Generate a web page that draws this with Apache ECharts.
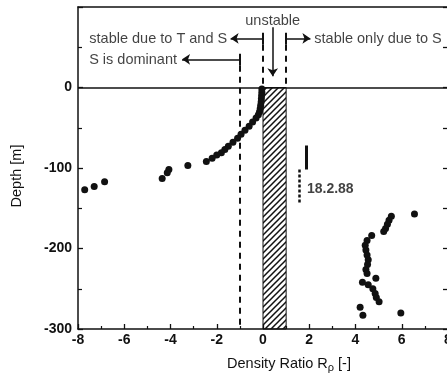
<!DOCTYPE html>
<html>
<head>
<meta charset="utf-8">
<script src="https://cdn.jsdelivr.net/npm/echarts@6/dist/echarts.min.js"></script>
<style>
  html, body { margin: 0; padding: 0; background: #fff; }
  #chart { width: 447px; height: 379px; }
</style>
</head>
<body>
<div id="chart"></div>
<script>
// axis ranges
const ratioRange = [-8, 8];
const depthRange = [-300, 100];
const depthLabels = [0, -100, -200, -300];

// density ratio / depth points, upper branch (surface to ~130 m)
const upperPoints = [
  [-0.05, -2], [-0.05, -6], [-0.06, -10], [-0.07, -14], [-0.08, -18], [-0.1, -22],
  [-0.12, -26], [-0.15, -30], [-0.2, -34], [-0.3, -38], [-0.45, -43], [-0.6, -48],
  [-0.78, -53], [-0.95, -58], [-1.1, -63], [-1.3, -68], [-1.5, -73], [-1.65, -77],
  [-1.8, -81], [-2.0, -84], [-2.2, -88], [-2.45, -92], [-3.25, -97], [-4.07, -102],
  [-4.14, -106], [-4.36, -113], [-6.85, -117], [-7.3, -123], [-7.71, -127]
];
// lower branch (~155 m to 285 m)
const lowerPoints = [
  [6.55, -157], [5.55, -160], [5.45, -165], [5.38, -170], [5.3, -175], [5.22, -179],
  [4.7, -184], [4.5, -190], [4.42, -196], [4.45, -202], [4.5, -208], [4.55, -214],
  [4.52, -220], [4.45, -226], [4.5, -231], [4.88, -237], [4.3, -242], [4.55, -245],
  [4.75, -250], [4.85, -256], [4.9, -261], [5.02, -266], [4.2, -273], [4.32, -283],
  [5.96, -280]
];

// unstable band 0 <= R <= 1
const unstableBand = [0, 1];

// annotations (data units)
const noteText = ['unstable', 'stable due to T and S', 'S is dominant', 'stable only due to S', '18.2.88'];
const notePos = [[0.42, 83], [-1.55, 60], [-3.72, 34], [2.22, 60], [1.9, -126]];
const noteAlign = ['center', 'right', 'right', 'left', 'left'];
const arrowLines = [
  [[0, 61], [-1.4, 61]],
  [[-1, 35], [-3.5, 35]],
  [[1, 61], [2.05, 61]],
  [[0.42, 75], [0.42, 14]]
];
const barLines = [
  [[0, 68], [0, 53]],
  [[-1, 42], [-1, 27]],
  [[1, 68], [1, 53]]
];
const dashedLines = [
  [[-1, 27], [-1, -300]],
  [[0, 53], [0, 0]],
  [[1, 53], [1, 0]]
];
const legendSolid = [[[1.88, -72], [1.88, -102]]];
const legendDotted = [[[1.58, -102], [1.58, -144]]];

const FONT = "'Liberation Sans', Arial, sans-serif";

// hatch pattern "////"
function makeHatch() {
  const c = document.createElement('canvas');
  c.width = 6; c.height = 6;
  const g = c.getContext('2d');
  g.strokeStyle = '#111';
  g.lineWidth = 1.5;
  g.beginPath();
  g.moveTo(-1, 7); g.lineTo(7, -1);
  g.moveTo(-4, 4); g.lineTo(4, -4);
  g.moveTo(2, 10); g.lineTo(10, 2);
  g.stroke();
  return c;
}

const chart = echarts.init(document.getElementById('chart'), null, { renderer: 'canvas' });

const axisLine = { show: true, onZero: false, lineStyle: { color: '#111', width: 1.5 } };

const option = {
  animation: false,
  backgroundColor: '#fff',
  grid: { left: 78, right: -1, top: 7, bottom: 50, containLabel: false, outerBoundsMode: 'none' },
  xAxis: [{
    type: 'value',
    min: ratioRange[0], max: ratioRange[1], interval: 2,
    position: 'bottom',
    axisLine: axisLine,
    axisTick: { show: true, inside: true, length: 5, lineStyle: { color: '#111', width: 1.3 } },
    minorTick: { show: true, splitNumber: 2, length: 3, lineStyle: { color: '#111', width: 1.2 } },
    splitLine: { show: false },
    axisLabel: { color: '#111', fontSize: 14, fontWeight: 'bold', fontFamily: FONT, margin: 4, hideOverlap: false },
    name: 'Density Ratio R{sub|ρ} [-]',
    nameLocation: 'middle',
    nameGap: 26,
    nameTextStyle: {
      color: '#111', fontSize: 14.5, fontFamily: FONT, padding: [0, 0, 0, 52],
      rich: { sub: { fontSize: 11, fontFamily: FONT, color: '#111', padding: [7, 0, 0, 0] } }
    }
  }, {
    type: 'value',
    min: ratioRange[0], max: ratioRange[1],
    position: 'top',
    axisLine: axisLine,
    axisTick: { show: false },
    axisLabel: { show: false },
    splitLine: { show: false }
  }],
  yAxis: [{
    type: 'value',
    min: depthRange[0], max: depthRange[1], interval: 100,
    position: 'left',
    axisLine: axisLine,
    axisTick: { show: true, inside: true, length: 5, lineStyle: { color: '#111', width: 1.3 } },
    minorTick: { show: true, splitNumber: 2, length: 4, lineStyle: { color: '#111', width: 1.2 } },
    splitLine: { show: false },
    axisLabel: {
      color: '#111', fontSize: 14, fontWeight: 'bold', fontFamily: FONT, margin: 6,
      formatter: function (v) { return depthLabels.indexOf(v) >= 0 ? String(v) : ''; }
    },
    name: 'Depth [m]',
    nameLocation: 'middle',
    nameGap: 54,
    nameTextStyle: { color: '#111', fontSize: 14.5, fontFamily: FONT, padding: [0, 0, 0, -16] }
  }, {
    type: 'value',
    min: depthRange[0], max: depthRange[1], interval: 100,
    position: 'right',
    axisLine: axisLine,
    axisTick: { show: true, inside: true, length: 5, lineStyle: { color: '#111', width: 1.3 } },
    minorTick: { show: true, splitNumber: 2, length: 5, lineStyle: { color: '#111', width: 1.3 } },
    axisLabel: { show: false },
    splitLine: { show: false }
  }],
  series: [
    {
      type: 'scatter',
      name: 'band',
      data: [],
      markArea: {
        silent: true,
        itemStyle: {
          color: { image: makeHatch(), repeat: 'repeat' },
          borderColor: '#111', borderWidth: 1, opacity: 1
        },
        data: [[{ xAxis: unstableBand[0], yAxis: depthRange[0] }, { xAxis: unstableBand[1], yAxis: 0 }]]
      },
      markLine: {
        silent: true,
        symbol: ['none', 'none'],
        label: { show: false },
        lineStyle: { color: '#111', width: 1.5, type: 'solid' },
        data: [{ yAxis: 0 }]
      }
    },
    {
      type: 'lines',
      coordinateSystem: 'cartesian2d',
      polyline: false,
      data: dashedLines.map(c => ({ coords: c })),
      lineStyle: { color: '#111', width: 2, type: [6, 5], opacity: 1 },
      z: 3
    },
    {
      type: 'lines',
      coordinateSystem: 'cartesian2d',
      data: barLines.map(c => ({ coords: c })),
      lineStyle: { color: '#111', width: 2, opacity: 1 },
      z: 3
    },
    {
      type: 'lines',
      coordinateSystem: 'cartesian2d',
      data: arrowLines.map(c => ({ coords: c })),
      symbol: ['none', 'arrow'],
      symbolSize: 8,
      lineStyle: { color: '#111', width: 1.5, opacity: 1 },
      z: 3
    },
    {
      type: 'lines',
      coordinateSystem: 'cartesian2d',
      data: legendSolid.map(c => ({ coords: c })),
      lineStyle: { color: '#111', width: 3, opacity: 1 },
      z: 3
    },
    {
      type: 'lines',
      coordinateSystem: 'cartesian2d',
      data: legendDotted.map(c => ({ coords: c })),
      lineStyle: { color: '#111', width: 2.5, type: [3, 2], opacity: 1 },
      z: 3
    },
    {
      type: 'scatter',
      data: upperPoints,
      symbol: 'circle',
      symbolSize: 7,
      itemStyle: { color: '#111', opacity: 1 },
      z: 5
    },
    {
      type: 'scatter',
      data: lowerPoints,
      symbol: 'circle',
      symbolSize: 7,
      itemStyle: { color: '#111', opacity: 1 },
      z: 5
    },
    {
      type: 'scatter',
      symbolSize: 1,
      itemStyle: { color: 'rgba(0,0,0,0)' },
      silent: true,
      z: 6,
      data: noteText.map((t, i) => ({
        value: notePos[i],
        name: t,
        label: {
          show: true,
          position: 'inside',
          formatter: t,
          align: noteAlign[i],
          verticalAlign: 'middle',
          color: '#111',
          fontSize: i === 4 ? 14 : 14.5,
          fontWeight: i === 4 ? 'bold' : 'normal',
          fontFamily: FONT
        }
      }))
    }
  ]
};

chart.setOption(option);
</script>
</body>
</html>
